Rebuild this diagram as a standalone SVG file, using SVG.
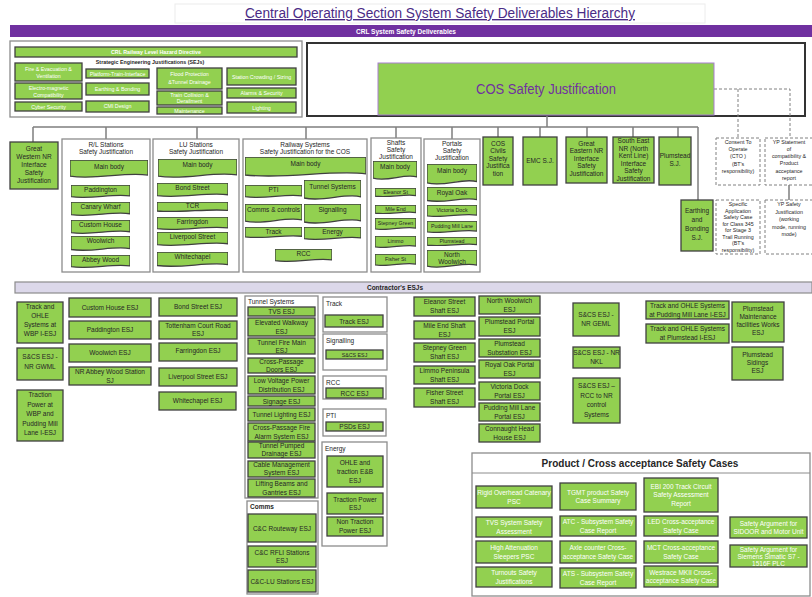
<svg xmlns="http://www.w3.org/2000/svg" xmlns:xlink="http://www.w3.org/1999/xlink" width="812" height="597" viewBox="0 0 812 597">
<style>
.b{fill:#92d050;stroke:#404040;stroke-width:1.3}
.k{fill:#fff;stroke:#8c8c8c;stroke-width:1.3}
.d{fill:#fff;stroke:#808080;stroke-width:1;stroke-dasharray:3 2}
.t{font-family:"Liberation Sans",Arial,sans-serif;font-size:6.5px;fill:#262626;text-anchor:middle}
.s{font-size:5.3px}
.w{fill:#fff}
.l{text-anchor:start}
.bd{font-weight:bold}
.cn{stroke:#7f7f7f;stroke-width:1.5;fill:none}
.dc{stroke:#808080;stroke-width:1;fill:none;stroke-dasharray:3 2}
</style>
<defs>
<symbol id="doc" viewBox="0 0 100 100" preserveAspectRatio="none"><path d="M0,0H100V84C70,64 35,112 0,90Z" vector-effect="non-scaling-stroke"/></symbol>
</defs>
<rect width="812" height="597" fill="#fff"/>
<g id="title">
<rect x="175" y="4" width="530" height="19" fill="#fff" stroke="#ececec"/>
<text x="440" y="18" font-family="Liberation Sans, Arial, sans-serif" font-size="14" fill="#4b2c86" text-anchor="middle" text-decoration="underline" textLength="390" lengthAdjust="spacingAndGlyphs">Central Operating Section System Safety Deliverables Hierarchy</text>
</g>
<g id="crl-band">
<rect x="10" y="25" width="802" height="12" fill="#7030a0"/>
<text class="t w bd" x="406" y="33.5" font-size="7" textLength="100" lengthAdjust="spacingAndGlyphs">CRL System Safety Deliverables</text>
</g>
<g id="crl-hazard">
<rect class="k" x="10" y="41" width="292" height="76"/>
<rect class="b" x="15" y="47" width="282" height="10"/>
<text class="t w bd s" x="156" y="54">CRL Railway Level Hazard Directive</text>
<text class="t bd s" x="150" y="64" fill="#000">Strategic Engineering Justifications (SEJs)</text>
<rect class="b" x="15" y="63" width="67" height="18"/><text class="t w s" x="48.5" y="71">Fire &amp; Evacuation &amp;</text><text class="t w s" x="48.5" y="78">Ventilation</text>
<rect class="b" x="15" y="83" width="67" height="16"/><text class="t w s" x="48.5" y="90">Electro-magnetic</text><text class="t w s" x="48.5" y="97">Compatibility</text>
<rect class="b" x="15" y="102" width="67" height="9"/><text class="t w s" x="48.5" y="108.5">Cyber Security</text>
<rect class="b" x="86" y="69" width="63" height="9"/><text class="t w s" x="117.5" y="75.5">Platform-Train-Interface</text>
<rect class="b" x="86" y="83" width="63" height="12"/><text class="t w s" x="117.5" y="91">Earthing &amp; Bonding</text>
<rect class="b" x="86" y="101" width="63" height="11"/><text class="t w s" x="117.5" y="108">CMI Design</text>
<rect class="b" x="157" y="68" width="65" height="21"/><text class="t w s" x="189.5" y="76">Flood Protection</text><text class="t w s" x="189.5" y="84">&amp;Tunnel Drainage</text>
<rect class="b" x="157" y="91" width="65" height="14"/><text class="t w s" x="189.5" y="97">Train Collision &amp;</text><text class="t w s" x="189.5" y="103">Derailment</text>
<rect class="b" x="157" y="107" width="65" height="7"/><text class="t w s" x="189.5" y="112.5">Maintenance</text>
<rect class="b" x="227" y="68" width="69" height="17"/><text class="t w s" x="261.5" y="78.5">Station Crowding / Sizing</text>
<rect class="b" x="227" y="88" width="69" height="10"/><text class="t w s" x="261.5" y="95">Alarms &amp; Security</text>
<rect class="b" x="227" y="102" width="69" height="11"/><text class="t w s" x="261.5" y="109.5">Lighting</text>
</g>
<g id="cos-frame"><rect x="307" y="43" width="498" height="73" fill="#fff" stroke="#333" stroke-width="2"/></g>
<g id="connectors">
<path class="cn" d="M547,116V127M33,127H698M33,127V142M106,127V139M197,127V139M306,127V139M396,127V138M452,127V139M498,127V137M540,127V137M587,127V137M633,127V137M678,127V137M698,127V200M789,185V200"/>
<path class="dc" d="M714,89H790V138M738,89V138"/>
</g>
<g id="cos-sj">
<rect x="378" y="63" width="336" height="52" fill="#92d050" stroke="#a77fd0" stroke-width="1"/>
<text x="546" y="94" font-family="Liberation Sans, Arial, sans-serif" font-size="14" fill="#7030a0" text-anchor="middle" textLength="140" lengthAdjust="spacingAndGlyphs">COS Safety Justification</text>
</g>
<g id="gw-sj">
<rect class="b" x="10" y="142" width="48" height="47"/>
<text class="t" x="34" y="151">Great</text><text class="t" x="34" y="159">Western NR</text><text class="t" x="34" y="167">Interface</text><text class="t" x="34" y="175">Safety</text><text class="t" x="34" y="183">Justification</text>
</g>
<g id="rl-stations">
<rect class="k" x="62" y="139" width="88" height="133"/>
<text class="t" x="106" y="147">R/L Stations</text><text class="t" x="106" y="154">Safety Justification</text>
<use xlink:href="#doc" class="b" x="70" y="160" width="78" height="18"/><text class="t" x="109" y="169">Main body</text>
<use xlink:href="#doc" class="b" x="71" y="185" width="59" height="13"/><text class="t" x="100.5" y="192">Paddington</text>
<use xlink:href="#doc" class="b" x="71" y="202" width="59" height="14"/><text class="t" x="100.5" y="209">Canary Wharf</text>
<use xlink:href="#doc" class="b" x="71" y="220" width="59" height="14"/><text class="t" x="100.5" y="227">Custom House</text>
<use xlink:href="#doc" class="b" x="71" y="236" width="59" height="15"/><text class="t" x="100.5" y="243">Woolwich</text>
<use xlink:href="#doc" class="b" x="71" y="255" width="59" height="13"/><text class="t" x="100.5" y="262">Abbey Wood</text>
</g>
<g id="lu-stations">
<rect class="k" x="153" y="139" width="86" height="133"/>
<text class="t" x="196" y="147">LU Stations</text><text class="t" x="196" y="154">Safety Justification</text>
<use xlink:href="#doc" class="b" x="158" y="159" width="79" height="19"/><text class="t" x="197.5" y="167">Main body</text>
<use xlink:href="#doc" class="b" x="157" y="183" width="71" height="14"/><text class="t" x="192.5" y="189.5">Bond Street</text>
<use xlink:href="#doc" class="b" x="157" y="202" width="71" height="10"/><text class="t" x="192.5" y="207.5">TCR</text>
<use xlink:href="#doc" class="b" x="157" y="217" width="71" height="13"/><text class="t" x="192.5" y="223.5">Farringdon</text>
<use xlink:href="#doc" class="b" x="157" y="232" width="71" height="14"/><text class="t" x="192.5" y="239">Liverpool Street</text>
<use xlink:href="#doc" class="b" x="157" y="252" width="71" height="15"/><text class="t" x="192.5" y="259">Whitechapel</text>
</g>
<g id="railway-systems">
<rect class="k" x="243" y="139" width="124" height="133"/>
<text class="t" x="305" y="147">Railway Systems</text><text class="t" x="305" y="154">Safety Justification for the COS</text>
<use xlink:href="#doc" class="b" x="245" y="157" width="121" height="20"/><text class="t" x="305.5" y="166">Main body</text>
<use xlink:href="#doc" class="b" x="245" y="185" width="57" height="13"/><text class="t" x="273.5" y="192">PTI</text>
<use xlink:href="#doc" class="b" x="304" y="180" width="57" height="20"/><text class="t" x="332.5" y="189">Tunnel Systems</text>
<use xlink:href="#doc" class="b" x="245" y="204" width="57" height="19"/><text class="t" x="273.5" y="212">Comms &amp; controls</text>
<use xlink:href="#doc" class="b" x="304" y="204" width="57" height="20"/><text class="t" x="332.5" y="212">Signalling</text>
<use xlink:href="#doc" class="b" x="245" y="227" width="57" height="11"/><text class="t" x="273.5" y="233.5">Track</text>
<use xlink:href="#doc" class="b" x="304" y="227" width="57" height="13"/><text class="t" x="332.5" y="234">Energy</text>
<use xlink:href="#doc" class="b" x="275" y="249" width="57" height="13"/><text class="t" x="303.5" y="256">RCC</text>
</g>
<g id="shafts">
<rect class="k" x="371" y="138" width="50" height="134"/>
<text class="t" x="396" y="145">Shafts</text><text class="t" x="396" y="152">Safety</text><text class="t" x="396" y="159">Justification</text>
<use xlink:href="#doc" class="b" x="373" y="161" width="44" height="19"/><text class="t" x="395" y="169">Main body</text>
<use xlink:href="#doc" class="b" x="375" y="188" width="41" height="9"/><text class="t s" x="395.5" y="194">Eleanor St</text>
<use xlink:href="#doc" class="b" x="375" y="205" width="41" height="9"/><text class="t s" x="395.5" y="211">Mile End</text>
<use xlink:href="#doc" class="b" x="375" y="218" width="41" height="12"/><text class="t s" x="395.5" y="224.5">Stepney Green</text>
<use xlink:href="#doc" class="b" x="375" y="236" width="41" height="12"/><text class="t s" x="395.5" y="242.5">Limmo</text>
<use xlink:href="#doc" class="b" x="375" y="254" width="41" height="12"/><text class="t s" x="395.5" y="260.5">Fisher St</text>
</g>
<g id="portals">
<rect class="k" x="424" y="139" width="56" height="133"/>
<text class="t" x="452" y="146">Portals</text><text class="t" x="452" y="153">Safety</text><text class="t" x="452" y="160">Justification</text>
<use xlink:href="#doc" class="b" x="427" y="164" width="50" height="21"/><text class="t" x="452" y="173">Main body</text>
<use xlink:href="#doc" class="b" x="427" y="187" width="50" height="15"/><text class="t" x="452" y="194.5">Royal Oak</text>
<use xlink:href="#doc" class="b" x="427" y="205" width="50" height="12"/><text class="t s" x="452" y="211.5">Victoria Dock</text>
<use xlink:href="#doc" class="b" x="427" y="221" width="50" height="12"/><text class="t s" x="452" y="227.5">Pudding Mill Lane</text>
<use xlink:href="#doc" class="b" x="427" y="237" width="50" height="9"/><text class="t s" x="452" y="243">Plumstead</text>
<use xlink:href="#doc" class="b" x="427" y="250" width="50" height="18"/><text class="t" x="452" y="257">North</text><text class="t" x="452" y="264">Woolwich</text>
</g>
<g id="cos-civils"><rect class="b" x="483" y="137" width="30" height="48"/>
<text class="t" x="498" y="146">COS</text><text class="t" x="498" y="153">Civils</text><text class="t" x="498" y="161">Safety</text><text class="t" x="498" y="168">Justifica</text><text class="t" x="498" y="176">tion</text></g>
<g id="emc-sj"><rect class="b" x="523" y="137" width="34" height="48"/><text class="t" x="540" y="163">EMC S.J.</text></g>
<g id="ge-sj"><rect class="b" x="566" y="137" width="41" height="46"/>
<text class="t" x="586.5" y="146">Great</text><text class="t" x="586.5" y="153">Eastern NR</text><text class="t" x="586.5" y="161">Interface</text><text class="t" x="586.5" y="168">Safety</text><text class="t" x="586.5" y="176">Justification</text></g>
<g id="se-sj"><rect class="b" x="613" y="137" width="41" height="46"/>
<text class="t" x="633.5" y="143">South East</text><text class="t" x="633.5" y="150.5">NR (North</text><text class="t" x="633.5" y="158">Kent Line)</text><text class="t" x="633.5" y="165.5">Interface</text><text class="t" x="633.5" y="173">Safety</text><text class="t" x="633.5" y="180.5">Justification</text></g>
<g id="plumstead-sj"><rect class="b" x="659" y="137" width="32" height="48"/><text class="t" x="675" y="158">Plumstead</text><text class="t" x="675" y="166">S.J.</text></g>
<g id="earthing-sj"><rect class="b" x="681" y="200" width="32" height="51"/>
<text class="t" x="697" y="213">Earthing</text><text class="t" x="697" y="222">and</text><text class="t" x="697" y="231">Bonding</text><text class="t" x="697" y="240">S.J.</text></g>
<g id="cto"><rect class="d" x="716" y="138" width="44" height="47"/>
<text class="t s" x="738" y="144">Consent To</text><text class="t s" x="738" y="151">Operate</text><text class="t s" x="738" y="158">(CTO )</text><text class="t s" x="738" y="166">(BT's</text><text class="t s" x="738" y="173">responsibility)</text></g>
<g id="yp-statement"><rect class="d" x="765" y="138" width="50" height="47"/>
<text class="t s" x="789" y="143.5">YP Statement</text><text class="t s" x="789" y="150.5">of</text><text class="t s" x="789" y="158">compatibility &amp;</text><text class="t s" x="789" y="165">Product</text><text class="t s" x="789" y="172.5">acceptance</text><text class="t s" x="789" y="180">report</text></g>
<g id="sasc"><rect class="d" x="716" y="200" width="44" height="54"/>
<text class="t s" x="738" y="206">Specific</text><text class="t s" x="738" y="212.5">Application</text><text class="t s" x="738" y="219">Safety Case</text><text class="t s" x="738" y="225.5">for Class 345</text><text class="t s" x="738" y="232">for Stage 3</text><text class="t s" x="738" y="238.5">Trail Running</text><text class="t s" x="738" y="245">(BT's</text><text class="t s" x="738" y="251.5">responsibility)</text></g>
<g id="yp-sj"><rect class="d" x="765" y="200" width="50" height="54"/>
<text class="t s" x="789" y="206">YP Safety</text><text class="t s" x="789" y="213.5">Justification</text><text class="t s" x="789" y="221">(working</text><text class="t s" x="789" y="228.5">mode, running</text><text class="t s" x="789" y="236">mode)</text></g>
<g id="contractors-band">
<rect x="15" y="282" width="797" height="11" fill="#dcd8ea" stroke="#8c8c8c" stroke-width="1.2"/>
<text class="t bd" x="395" y="290" fill="#000">Contractor's ESJs</text>
</g>
<g id="wbp-iesj"><rect class="b" x="17" y="302" width="46" height="41"/><text class="t" x="40" y="309">Track and</text><text class="t" x="40" y="318">OHLE</text><text class="t" x="40" y="327">Systems at</text><text class="t" x="40" y="336">WBP I-ESJ</text></g>
<g id="scs-gwml"><rect class="b" x="17" y="348" width="46" height="32"/><text class="t" x="40" y="359">S&amp;CS ESJ -</text><text class="t" x="40" y="369">NR GWML</text></g>
<g id="traction-wbp"><rect class="b" x="17" y="390" width="46" height="51"/><text class="t" x="40" y="397">Traction</text><text class="t" x="40" y="406.5">Power at</text><text class="t" x="40" y="416">WBP and</text><text class="t" x="40" y="425.5">Pudding Mill</text><text class="t" x="40" y="435">Lane I-ESJ</text></g>
<g id="ch-esj"><rect class="b" x="69" y="298" width="82" height="19"/><text class="t" x="110" y="309.5">Custom House ESJ</text></g>
<g id="pad-esj"><rect class="b" x="69" y="321" width="82" height="18"/><text class="t" x="110" y="332">Paddington ESJ</text></g>
<g id="wool-esj"><rect class="b" x="69" y="344" width="82" height="18"/><text class="t" x="110" y="355">Woolwich ESJ</text></g>
<g id="abbey-sj"><rect class="b" x="69" y="367" width="82" height="18"/><text class="t" x="110" y="374">NR Abbey Wood Station</text><text class="t" x="110" y="382.5">SJ</text></g>
<g id="bond-esj"><rect class="b" x="159" y="298" width="78" height="18"/><text class="t" x="198" y="309">Bond Street ESJ</text></g>
<g id="tcr-esj"><rect class="b" x="159" y="321" width="78" height="18"/><text class="t" x="198" y="327.5">Tottenham Court Road</text><text class="t" x="198" y="336">ESJ</text></g>
<g id="farr-esj"><rect class="b" x="159" y="343" width="78" height="18"/><text class="t" x="198" y="353">Farringdon ESJ</text></g>
<g id="liv-esj"><rect class="b" x="159" y="368" width="78" height="18"/><text class="t" x="198" y="379">Liverpool Street ESJ</text></g>
<g id="white-esj"><rect class="b" x="159" y="392" width="77" height="18"/><text class="t" x="197.5" y="403">Whitechapel ESJ</text></g>
<g id="tunnel-systems">
<rect class="k" x="245" y="296" width="73" height="202"/>
<text class="t l" x="248" y="304">Tunnel Systems</text>
<rect class="b" x="248" y="307" width="67" height="9"/><text class="t" x="281.5" y="314">TVS ESJ</text>
<rect class="b" x="248" y="318" width="67" height="18"/><text class="t" x="281.5" y="325">Elevated Walkway</text><text class="t" x="281.5" y="334">ESJ</text>
<rect class="b" x="248" y="338" width="67" height="16"/><text class="t" x="281.5" y="344.5">Tunnel Fire Main</text><text class="t" x="281.5" y="352.5">ESJ</text>
<rect class="b" x="248" y="358" width="67" height="15"/><text class="t" x="281.5" y="364">Cross-Passage</text><text class="t" x="281.5" y="371.5">Doors ESJ</text>
<rect class="b" x="248" y="376" width="67" height="18"/><text class="t" x="281.5" y="383">Low Voltage Power</text><text class="t" x="281.5" y="391.5">Distribution ESJ</text>
<rect class="b" x="248" y="396" width="67" height="10"/><text class="t" x="281.5" y="403.5">Signage ESJ</text>
<rect class="b" x="248" y="408" width="67" height="13"/><text class="t" x="281.5" y="417">Tunnel Lighting ESJ</text>
<rect class="b" x="248" y="423" width="67" height="18"/><text class="t" x="281.5" y="430">Cross-Passage Fire</text><text class="t" x="281.5" y="438.5">Alarm System ESJ</text>
<rect class="b" x="248" y="442" width="67" height="16"/><text class="t" x="281.5" y="448">Tunnel Pumped</text><text class="t" x="281.5" y="456">Drainage ESJ</text>
<rect class="b" x="248" y="461" width="67" height="16"/><text class="t" x="281.5" y="467">Cable Management</text><text class="t" x="281.5" y="475">System ESJ</text>
<rect class="b" x="248" y="479" width="67" height="18"/><text class="t" x="281.5" y="486">Lifting Beams and</text><text class="t" x="281.5" y="494.5">Gantries ESJ</text>
</g>
<g id="comms">
<rect class="k" x="247" y="501" width="71" height="93"/>
<text class="t l bd" x="250" y="509" fill="#000">Comms</text>
<rect class="b" x="248" y="514" width="68" height="28"/><text class="t" x="282" y="530.5">C&amp;C Routeway  ESJ</text>
<rect class="b" x="248" y="546" width="68" height="21"/><text class="t" x="282" y="554.5">C&amp;C RFLI Stations</text><text class="t" x="282" y="563">ESJ</text>
<rect class="b" x="248" y="570" width="68" height="22"/><text class="t" x="282" y="583.5">C&amp;C-LU Stations ESJ</text>
</g>
<g id="track-c">
<rect class="k" x="323" y="297" width="64" height="35"/><text class="t l" x="326" y="306">Track</text>
<rect class="b" x="325" y="315" width="58" height="12"/><text class="t" x="354" y="323.5">Track ESJ</text>
</g>
<g id="signalling-c">
<rect class="k" x="323" y="334" width="64" height="36"/><text class="t l" x="326" y="343">Signalling</text>
<rect class="b" x="326" y="350" width="57" height="9"/><text class="t s" x="354.5" y="357">S&amp;CS ESJ</text>
</g>
<g id="rcc-c">
<rect class="k" x="323" y="376" width="63" height="23"/><text class="t l" x="326" y="385">RCC</text>
<rect class="b" x="326" y="388" width="57" height="10"/><text class="t" x="354.5" y="395.5">RCC ESJ</text>
</g>
<g id="pti-c">
<rect class="k" x="323" y="409" width="63" height="27"/><text class="t l" x="326" y="418">PTI</text>
<rect class="b" x="326" y="422" width="57" height="9"/><text class="t" x="354.5" y="429">PSDs ESJ</text>
</g>
<g id="energy-c">
<rect class="k" x="322" y="442" width="65" height="104"/><text class="t l" x="325" y="451">Energy</text>
<rect class="b" x="327" y="456" width="56" height="31"/><text class="t" x="355" y="464.5">OHLE and</text><text class="t" x="355" y="473.5">traction E&amp;B</text><text class="t" x="355" y="482.5">ESJ</text>
<rect class="b" x="327" y="493" width="56" height="21"/><text class="t" x="355" y="501.5">Traction Power</text><text class="t" x="355" y="510">ESJ</text>
<rect class="b" x="327" y="517" width="56" height="19"/><text class="t" x="355" y="524">Non Traction</text><text class="t" x="355" y="532.5">Power ESJ</text>
</g>
<g id="eleanor-esj"><rect class="b" x="414" y="297" width="61" height="19"/><text class="t" x="444.5" y="304">Eleanor Street</text><text class="t" x="444.5" y="313">Shaft ESJ</text></g>
<g id="mileend-esj"><rect class="b" x="414" y="321" width="61" height="18"/><text class="t" x="444.5" y="328">Mile End Shaft</text><text class="t" x="444.5" y="336.5">ESJ</text></g>
<g id="stepney-esj"><rect class="b" x="414" y="343" width="61" height="19"/><text class="t" x="444.5" y="350">Stepney Green</text><text class="t" x="444.5" y="359">Shaft ESJ</text></g>
<g id="limmo-esj"><rect class="b" x="414" y="366" width="61" height="18"/><text class="t" x="444.5" y="373">Limmo Peninsula</text><text class="t" x="444.5" y="381.5">Shaft ESJ</text></g>
<g id="fisher-esj"><rect class="b" x="414" y="388" width="61" height="19"/><text class="t" x="444.5" y="395">Fisher Street</text><text class="t" x="444.5" y="404">Shaft ESJ</text></g>
<g id="nwool-esj"><rect class="b" x="479" y="296" width="61" height="18"/><text class="t" x="509.5" y="303">North Woolwich</text><text class="t" x="509.5" y="311.5">ESJ</text></g>
<g id="plportal-esj"><rect class="b" x="479" y="317" width="61" height="19"/><text class="t" x="509.5" y="324">Plumstead Portal</text><text class="t" x="509.5" y="333">ESJ</text></g>
<g id="plsub-esj"><rect class="b" x="479" y="339" width="61" height="18"/><text class="t" x="509.5" y="346">Plumstead</text><text class="t" x="509.5" y="354.5">Substation ESJ</text></g>
<g id="royaloak-esj"><rect class="b" x="479" y="360" width="61" height="18"/><text class="t" x="509.5" y="367">Royal Oak Portal</text><text class="t" x="509.5" y="375.5">ESJ</text></g>
<g id="victoria-esj"><rect class="b" x="479" y="382" width="61" height="18"/><text class="t" x="509.5" y="389">Victoria Dock</text><text class="t" x="509.5" y="397.5">Portal ESJ</text></g>
<g id="pudding-esj"><rect class="b" x="479" y="403" width="61" height="18"/><text class="t" x="509.5" y="410">Pudding Mill Lane</text><text class="t" x="509.5" y="418.5">Portal ESJ</text></g>
<g id="connaught-esj"><rect class="b" x="479" y="424" width="61" height="18"/><text class="t" x="509.5" y="431">Connaught Head</text><text class="t" x="509.5" y="439.5">House ESJ</text></g>
<g id="scs-geml"><rect class="b" x="573" y="303" width="46" height="33"/><text class="t" x="596" y="317">S&amp;CS ESJ -</text><text class="t" x="596" y="326">NR GEML</text></g>
<g id="scs-nkl"><rect class="b" x="573" y="347" width="47" height="21"/><text class="t" x="596.5" y="355">S&amp;CS ESJ - NR</text><text class="t" x="596.5" y="364">NKL</text></g>
<g id="scs-rcc"><rect class="b" x="573" y="378" width="47" height="45"/><text class="t" x="596.5" y="388">S&amp;CS ESJ –</text><text class="t" x="596.5" y="397.5">RCC to NR</text><text class="t" x="596.5" y="407">control</text><text class="t" x="596.5" y="416.5">Systems</text></g>
<g id="pml-iesj"><rect class="b" x="646" y="301" width="83" height="18"/><text class="t" x="687.5" y="308">Track and OHLE Systems</text><text class="t" x="687.5" y="316.5">at Pudding Mill Lane I-ESJ</text></g>
<g id="plm-iesj"><rect class="b" x="646" y="324" width="83" height="19"/><text class="t" x="687.5" y="331">Track and OHLE Systems</text><text class="t" x="687.5" y="340">at Plumstead I-ESJ</text></g>
<g id="plm-maint"><rect class="b" x="732" y="302" width="52" height="40"/><text class="t" x="758" y="311">Plumstead</text><text class="t" x="758" y="319">Maintenance</text><text class="t" x="758" y="327">facilities Works</text><text class="t" x="758" y="335">ESJ</text></g>
<g id="plm-sidings"><rect class="b" x="732" y="347" width="51" height="33"/><text class="t" x="757.5" y="357">Plumstead</text><text class="t" x="757.5" y="365">Sidings</text><text class="t" x="757.5" y="373">ESJ</text></g>
<g id="product-cases">
<rect class="k" x="472" y="453" width="338" height="143"/>
<line x1="472" y1="473" x2="810" y2="473" stroke="#8c8c8c" stroke-width="1"/>
<text x="640" y="467" font-family="Liberation Sans, Arial, sans-serif" font-size="10" font-weight="bold" fill="#262626" text-anchor="middle">Product / Cross acceptance Safety Cases</text>
<rect class="b" x="476" y="486" width="76" height="22"/><text class="t w" x="514" y="495">Rigid Overhead Catenary</text><text class="t w" x="514" y="503.5">PSC</text>
<rect class="b" x="476" y="517" width="76" height="20"/><text class="t w" x="514" y="525">TVS System Safety</text><text class="t w" x="514" y="533.5">Assessment</text>
<rect class="b" x="476" y="541" width="76" height="22"/><text class="t w" x="514" y="550">High Attenuation</text><text class="t w" x="514" y="558.5">Sleepers PSC</text>
<rect class="b" x="476" y="567" width="76" height="20"/><text class="t w" x="514" y="575">Turnouts Safety</text><text class="t w" x="514" y="583.5">Justifications</text>
<rect class="b" x="560" y="483" width="76" height="27"/><text class="t w" x="598" y="494.5">TGMT product Safety</text><text class="t w" x="598" y="503">Case Summary</text>
<rect class="b" x="560" y="516" width="76" height="20"/><text class="t w" x="598" y="524">ATC - Subsystem Safety</text><text class="t w" x="598" y="532.5">Case Report</text>
<rect class="b" x="560" y="541" width="76" height="22"/><text class="t w" x="598" y="550">Axle counter Cross-</text><text class="t w" x="598" y="558.5">acceptance Safety Case</text>
<rect class="b" x="560" y="568" width="76" height="20"/><text class="t w" x="598" y="576">ATS - Subsystem Safety</text><text class="t w" x="598" y="584.5">Case Report</text>
<rect class="b" x="644" y="478" width="74" height="34"/><text class="t w" x="681" y="488.5">EBI 200 Track Circuit</text><text class="t w" x="681" y="497">Safety Assessment</text><text class="t w" x="681" y="505.5">Report</text>
<rect class="b" x="644" y="516" width="74" height="20"/><text class="t w" x="681" y="524">LED Cross-acceptance</text><text class="t w" x="681" y="532.5">Safety Case</text>
<rect class="b" x="644" y="541" width="74" height="22"/><text class="t w" x="681" y="550">MCT Cross-acceptance</text><text class="t w" x="681" y="558.5">Safety Case</text>
<rect class="b" x="644" y="566" width="74" height="21"/><text class="t w" x="681" y="574.5">Westrace MKII Cross-</text><text class="t w" x="681" y="583">acceptance Safety Case</text>
<rect class="b" x="730" y="517" width="77" height="21"/><text class="t w" x="768.5" y="525.5">Safety Argument for</text><text class="t w" x="768.5" y="534">SIDOOR and Motor Unit</text>
<rect class="b" x="730" y="545" width="77" height="22"/><text class="t w" x="768.5" y="551.5">Safety Argument for</text><text class="t w" x="768.5" y="558.5">Siemens Simatic S7 -</text><text class="t w" x="768.5" y="565.5">1516F PLC</text>
</g>
</svg>
